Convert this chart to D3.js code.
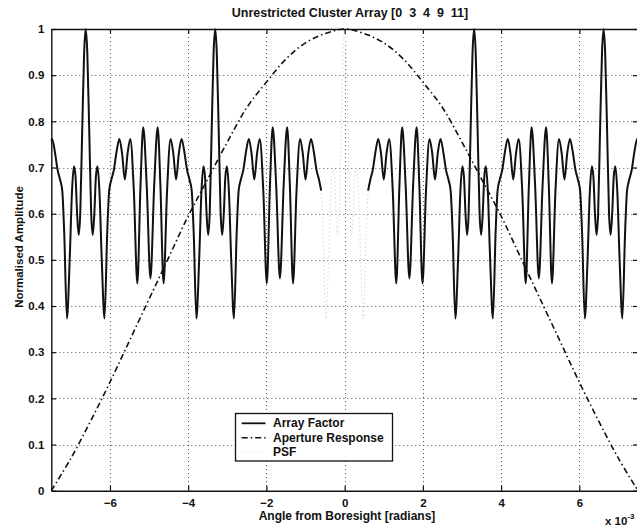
<!DOCTYPE html>
<html>
<head>
<meta charset="utf-8">
<script src="https://cdn.jsdelivr.net/npm/d3@7"></script>
<style>
  html, body { margin: 0; padding: 0; background: #fff; }
  svg { display: block; }
  text { font-family: "Liberation Sans", Arial, Helvetica, sans-serif; font-weight: bold; fill: #111; }
</style>
</head>
<body>
<svg id="chart" width="637" height="529"></svg>
<script>
// ---------- data (angle in units of 1e-3 rad, normalised amplitude) ----------
const titleText = "Unrestricted Cluster Array [0  3  4  9  11]";
const xLabel = "Angle from Boresight [radians]";
const yLabel = "Normalised Amplitude";
const seriesNames = ["Array Factor", "Aperture Response", "PSF"];
const xTicks = [-6, -4, -2, 0, 2, 4, 6];
const yTicks = [0, 0.1, 0.2, 0.3, 0.4, 0.5, 0.6, 0.7, 0.8, 0.9, 1];

// Array factor, left visible segment
const afLeftX = [-7.50,-7.48,-7.41,-7.34,-7.28,-7.22,-7.17,-7.10,-7.03,-6.97,-6.92,-6.88,-6.84,-6.80,-6.76,-6.71,-6.66,-6.62,
  -6.58,-6.53,-6.48,-6.44,-6.40,-6.36,-6.32,-6.27,-6.21,-6.14,-6.07,-6.02,-5.96,-5.90,-5.83,-5.76,-5.69,-5.62,-5.55,-5.48,-5.39,-5.30,-5.22,-5.15,-5.06,-4.965,
  -4.87,-4.78,-4.71,-4.63,-4.54,-4.45,-4.38,-4.31,-4.24,-4.17,-4.10,-4.03,-3.97,-3.91,-3.86,-3.79,-3.72,-3.66,-3.61,-3.57,-3.53,-3.49,-3.45,-3.40,-3.35,-3.31,
  -3.27,-3.22,-3.17,-3.13,-3.09,-3.05,-3.01,-2.96,-2.90,-2.83,-2.76,-2.71,-2.65,-2.59,-2.52,-2.45,-2.38,-2.31,-2.24,-2.17,-2.08,-1.99,-1.91,-1.84,-1.75,-1.655,
  -1.56,-1.47,-1.40,-1.32,-1.23,-1.14,-1.07,-1.00,-0.93,-0.86,-0.79,-0.72,-0.66,-0.60];
const afLeftY = [0.758,0.762,0.735,0.695,0.675,0.65,0.56,0.373,0.50,0.65,0.703,0.68,0.60,0.554,0.60,0.78,0.95,1.0,
  0.95,0.78,0.60,0.554,0.60,0.68,0.703,0.65,0.50,0.373,0.56,0.65,0.675,0.695,0.735,0.762,0.73,0.674,0.73,0.762,0.65,0.449,0.66,0.787,0.66,0.46,
  0.66,0.787,0.66,0.449,0.65,0.762,0.73,0.674,0.73,0.762,0.735,0.695,0.675,0.65,0.56,0.373,0.50,0.65,0.703,0.68,0.60,0.554,0.60,0.78,0.95,1.0,
  0.95,0.78,0.60,0.554,0.60,0.68,0.703,0.65,0.50,0.373,0.56,0.65,0.675,0.695,0.735,0.762,0.73,0.674,0.73,0.762,0.65,0.449,0.66,0.787,0.66,0.46,
  0.66,0.787,0.66,0.449,0.65,0.762,0.73,0.674,0.73,0.762,0.735,0.695,0.675,0.65];

// Array factor, right visible segment
const afRightX = [0.60,0.66,0.72,0.79,0.86,0.93,1.00,1.07,1.14,1.23,1.32,1.40,1.47,1.56,1.655,
  1.75,1.84,1.91,1.99,2.08,2.17,2.24,2.31,2.38,2.45,2.52,2.59,2.65,2.71,2.76,2.83,2.90,2.96,3.01,3.05,3.09,3.13,3.17,3.22,3.27,3.31,
  3.35,3.40,3.45,3.49,3.53,3.57,3.61,3.66,3.72,3.79,3.86,3.91,3.97,4.03,4.10,4.17,4.24,4.31,4.38,4.45,4.54,4.63,4.71,4.78,4.87,4.965,
  5.06,5.15,5.22,5.30,5.39,5.48,5.55,5.62,5.69,5.76,5.83,5.90,5.96,6.02,6.07,6.14,6.21,6.27,6.32,6.36,6.40,6.44,6.48,6.53,6.58,6.62,
  6.66,6.71,6.76,6.80,6.84,6.88,6.92,6.97,7.03,7.10,7.17,7.22,7.28,7.34,7.41,7.48,7.50];
const afRightY = [0.65,0.675,0.695,0.735,0.762,0.73,0.674,0.73,0.762,0.65,0.449,0.66,0.787,0.66,0.46,
  0.66,0.787,0.66,0.449,0.65,0.762,0.73,0.674,0.73,0.762,0.735,0.695,0.675,0.65,0.56,0.373,0.50,0.65,0.703,0.68,0.60,0.554,0.60,0.78,0.95,1.0,
  0.95,0.78,0.60,0.554,0.60,0.68,0.703,0.65,0.50,0.373,0.56,0.65,0.675,0.695,0.735,0.762,0.73,0.674,0.73,0.762,0.65,0.449,0.66,0.787,0.66,0.46,
  0.66,0.787,0.66,0.449,0.65,0.762,0.73,0.674,0.73,0.762,0.735,0.695,0.675,0.65,0.56,0.373,0.50,0.65,0.703,0.68,0.60,0.554,0.60,0.78,0.95,1.0,
  0.95,0.78,0.60,0.554,0.60,0.68,0.703,0.65,0.50,0.373,0.56,0.65,0.675,0.695,0.735,0.762,0.758];

// Aperture response
const apX = [-7.5,-7.0,-6.5,-6.0,-5.5,-5.0,-4.5,-4.0,-3.5,-3.0,-2.5,-2.0,-1.5,-1.0,-0.5,0,0.5,1.0,1.5,2.0,2.5,3.0,3.5,4.0,4.5,5.0,5.5,6.0,6.5,7.0,7.5];
const apY = [0.0,0.07,0.15,0.235,0.325,0.415,0.505,0.595,0.675,0.755,0.83,0.885,0.935,0.97,0.99,1.0,0.99,0.97,0.935,0.885,0.83,0.755,0.675,0.595,0.505,0.415,0.325,0.235,0.15,0.07,0.0];

// PSF (visible faintly near boresight)
const psfX = [-0.66,-0.60,-0.55,-0.48,-0.41,-0.35,-0.30,-0.26,-0.22,-0.18,-0.14,-0.09,-0.04,0,0.04,0.09,0.14,0.18,0.22,0.26,0.30,0.35,0.41,0.48,0.55,0.60,0.66];
const psfY = [0.67,0.645,0.555,0.372,0.50,0.65,0.70,0.68,0.60,0.554,0.60,0.78,0.95,1.0,0.95,0.78,0.60,0.554,0.60,0.68,0.70,0.65,0.50,0.372,0.555,0.645,0.67];

// ---------- drawing ----------
const svg = d3.select("#chart");
const x = d3.scaleLinear().domain([-7.5, 7.5]).range([51.3, 638]);
const y = d3.scaleLinear().domain([0, 1]).range([490.7, 29]);

const zip = (xs, ys) => xs.map((v, i) => [v, ys[i]]);
const line = d3.line().x(d => x(d[0])).y(d => y(d[1])).curve(d3.curveMonotoneX);

// gridlines
const grid = svg.append("g").attr("stroke", "#555").attr("stroke-width", 1).attr("stroke-dasharray", "1,3");
grid.selectAll("line.gx").data(xTicks).join("line")
  .attr("x1", d => Math.round(x(d)) + 0.5).attr("x2", d => Math.round(x(d)) + 0.5)
  .attr("y1", y(1)).attr("y2", y(0));
grid.selectAll("line.gy").data(yTicks.filter(d => d > 0 && d < 1)).join("line")
  .attr("x1", x(-7.5)).attr("x2", x(7.5))
  .attr("y1", d => Math.round(y(d)) + 0.5).attr("y2", d => Math.round(y(d)) + 0.5);

// PSF (very light)
svg.append("path").datum(zip(psfX, psfY)).attr("d", line)
  .attr("fill", "none").attr("stroke", "#dcdcdc").attr("stroke-width", 1.2).attr("stroke-dasharray", "1.5,2.5");

// Array factor
[zip(afLeftX, afLeftY), zip(afRightX, afRightY)].forEach(seg => {
  svg.append("path").datum(seg).attr("d", line)
    .attr("fill", "none").attr("stroke", "#111").attr("stroke-width", 2).attr("stroke-linejoin", "round");
});

// Aperture response
svg.append("path").datum(zip(apX, apY)).attr("d", d3.line().x(d => x(d[0])).y(d => y(d[1])).curve(d3.curveCatmullRom))
  .attr("fill", "none").attr("stroke", "#111").attr("stroke-width", 1.6).attr("stroke-dasharray", "6,3,1.5,3");

// axes (inward ticks, MATLAB box)
const fmt = d => (d === 0 ? "0" : d === 1 ? "1" : d.toFixed(1));
const axB = svg.append("g").attr("transform", `translate(0,${y(0)})`)
  .call(d3.axisBottom(x).tickValues(xTicks).tickSizeInner(-5).tickSizeOuter(0).tickPadding(8).tickFormat(d3.format("d")));
const axL = svg.append("g").attr("transform", `translate(${x(-7.5)},0)`)
  .call(d3.axisLeft(y).tickValues(yTicks).tickSizeInner(-5).tickSizeOuter(0).tickPadding(7).tickFormat(fmt));
const axT = svg.append("g").attr("transform", `translate(0,${y(1)})`)
  .call(d3.axisTop(x).tickValues(xTicks).tickSizeInner(-5).tickSizeOuter(0).tickFormat(""));
const axR = svg.append("g").attr("transform", `translate(${x(7.5)},0)`)
  .call(d3.axisRight(y).tickValues(yTicks).tickSizeInner(-5).tickSizeOuter(0).tickFormat(""));
[axB, axL, axT, axR].forEach(g => {
  g.selectAll("path.domain").attr("stroke", "#111").attr("stroke-width", 1.4);
  g.selectAll(".tick line").attr("stroke", "#111").attr("stroke-width", 1.2);
  g.selectAll("text").attr("font-size", 11.5).attr("font-family", "Liberation Sans, Arial, sans-serif").attr("font-weight", "bold").attr("fill", "#111");
});

// title and labels
svg.append("text").attr("x", 350).attr("y", 17).attr("text-anchor", "middle")
  .attr("font-size", 12.5).style("white-space", "pre").text(titleText);
svg.append("text").attr("x", 347).attr("y", 520).attr("text-anchor", "middle")
  .attr("font-size", 12).text(xLabel);
svg.append("text").attr("transform", "translate(23,247) rotate(-90)").attr("text-anchor", "middle")
  .attr("font-size", 11.5).text(yLabel);
const sci = svg.append("text").attr("x", 605).attr("y", 525).attr("font-size", 11.5);
sci.append("tspan").text("x 10");
sci.append("tspan").attr("dy", -6).attr("font-size", 8).text("-3");

// legend
const lg = svg.append("g");
lg.append("rect").attr("x", 235.5).attr("y", 413.5).attr("width", 157).attr("height", 47.5)
  .attr("fill", "#fff").attr("stroke", "#111").attr("stroke-width", 1.3);
const rows = [423.3, 437.7, 452.3];
const styles = [
  { stroke: "#111", dash: null, w: 1.8 },
  { stroke: "#111", dash: "6,3,1.5,3", w: 1.6 },
  { stroke: "#f0f0f0", dash: "1.5,2.5", w: 1.2 }
];
seriesNames.forEach((name, i) => {
  lg.append("line").attr("x1", 241.7).attr("x2", 265.5).attr("y1", rows[i]).attr("y2", rows[i])
    .attr("stroke", styles[i].stroke).attr("stroke-width", styles[i].w)
    .attr("stroke-dasharray", styles[i].dash);
  lg.append("text").attr("x", 273).attr("y", rows[i] + 4).attr("font-size", 12).text(name);
});
</script>
</body>
</html>
